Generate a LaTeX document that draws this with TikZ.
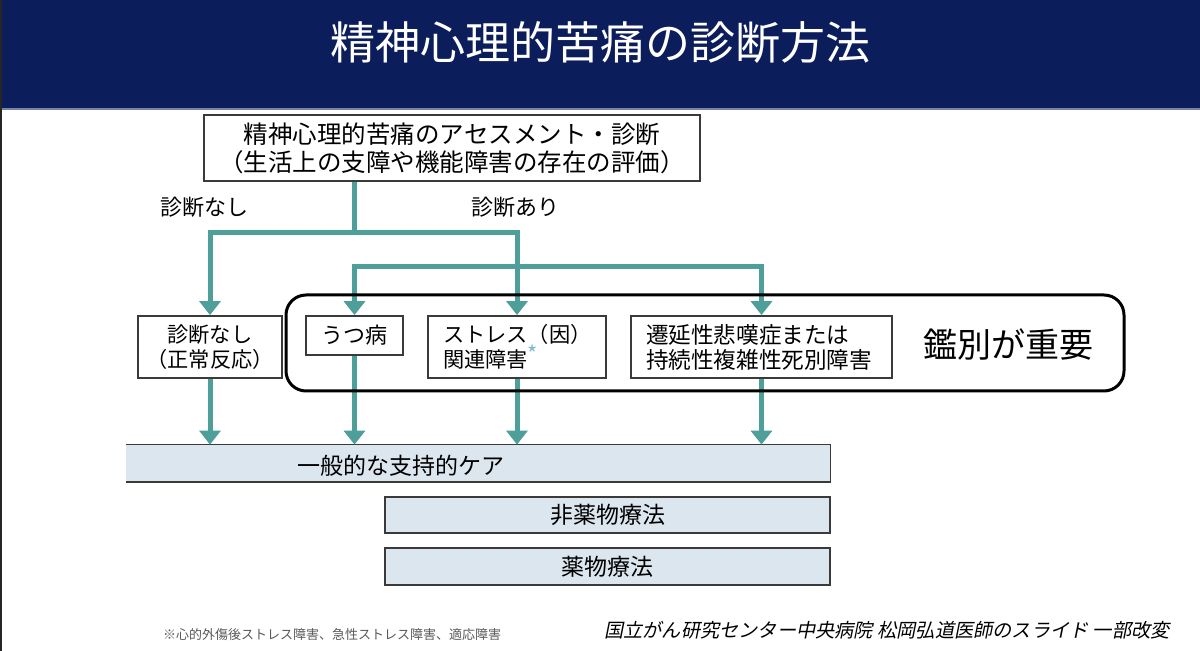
\documentclass[tikz,border=0pt]{standalone}
\usepackage{fontspec}
\setmainfont{Noto Sans CJK JP}
\newfontfamily\slantfont[FakeSlant=0.2]{Noto Sans CJK JP}
\usetikzlibrary{arrows.meta}
\definecolor{navy}{HTML}{0C1D5C}
\definecolor{tealline}{HTML}{4E9E99}
\definecolor{carefill}{HTML}{DCE6EF}
\definecolor{boxline}{HTML}{3A3A3A}
\definecolor{astcol}{HTML}{7FB8CC}
\newcommand{\fsz}[2]{\fontsize{#1}{#2}\selectfont}
\tikzset{
  tline/.style={draw=tealline, line width=2.5pt},
  arr/.style={draw=tealline, line width=2.5pt, -{Triangle[width=10.5pt,length=7pt]}},
  boxnode/.style={draw=boxline, line width=0.9pt, fill=white, inner sep=0pt, align=center},
  bandnode/.style={draw=boxline, line width=0.9pt, fill=carefill, inner sep=0pt, align=center, font=\fsz{11.5pt}{13pt}},
}
\begin{document}
\begin{tikzpicture}[x=0.5pt, y=-0.5pt]
\useasboundingbox (0,0) rectangle (1200,651);
\fill[white] (0,0) rectangle (1200,651);
% title bar
\fill[navy] (0,0) rectangle (1200,109);
\draw[line width=0.6pt, draw=navy!55] (0,109) -- (1200,109);
\fill[black!85] (0,0) rectangle (2,651);
\node[text=white, font=\fsz{22.5pt}{26pt}, inner sep=0pt] (title) at (600,43) {精神心理的苦痛の診断方法};

% main box
\node[boxnode, minimum width=248pt, minimum height=33pt, font=\fsz{12.25pt}{14pt}] (main) at (452,148)
  {精神心理的苦痛のアセスメント・診断\\（生活上の支障や機能障害の存在の評価）};

% branch labels
\node[font=\fsz{11pt}{12pt}, inner sep=0pt] (lblnone) at (204,207) {診断なし};
\node[font=\fsz{11pt}{12pt}, inner sep=0pt] (lblyes) at (515,207) {診断あり};

% row boxes
\node[boxnode, minimum width=72pt, minimum height=31pt, font=\fsz{10.6pt}{12.5pt}] (nashi) at (210,347)
  {診断なし\\（正常反応）};
\node[boxnode, minimum width=48.5pt, minimum height=19.5pt, font=\fsz{11pt}{12.5pt}] (utsu) at (354.5,335.5)
  {うつ病};
\node[boxnode, minimum width=89pt, minimum height=31pt, text width=74pt, align=left, font=\fsz{10.6pt}{12.5pt}] (stress) at (517,347)
  {ストレス（因）\\関連障害{\color{astcol}\fsz{11pt}{12pt}\raisebox{2.5pt}{*}}};
\node[boxnode, minimum width=130.5pt, minimum height=31pt, text width=115.5pt, align=left, font=\fsz{11.3pt}{12.5pt}] (sentei) at (761.5,347)
  {遷延性悲嘆症または\\持続性複雑性死別障害};

% care band
\node[fill=carefill, inner sep=0pt, minimum width=352pt, minimum height=18.5pt] (care) at (478,463.5) {};
\draw[boxline, line width=0.9pt] (care.north west) -- (care.north east) -- (care.south east) -- (care.south west);
\node[font=\fsz{11.5pt}{13pt}, inner sep=0pt] (caretext) at (401,466) {一般的な支持的ケア};

% therapy boxes
\node[bandnode, minimum width=222.5pt, minimum height=18pt] (nonpharm) at (607.5,515) {非薬物療法};
\node[bandnode, minimum width=222.5pt, minimum height=18.5pt] (pharm) at (607.5,566.5) {薬物療法};

% connectors
\coordinate (j1) at (354,233);
\coordinate (j2) at (354,267);
\draw[tline] (main.south -| j1) -- (j1);
\draw[tline, line cap=rect] (nashi.north |- j1) -- (stress.north |- j1);
\draw[arr] (nashi.north |- j1) -- (nashi.north);
\draw[arr] (stress.north |- j1) -- (stress.north);
\draw[tline, line cap=rect] (utsu.north |- j2) -- (sentei.north |- j2);
\draw[arr] (utsu.north |- j2) -- (utsu.north);
\draw[arr] (sentei.north |- j2) -- (sentei.north);

\draw[arr] (nashi.south) -- (nashi.south |- care.north);
\draw[arr] (utsu.south) -- (utsu.south |- care.north);
\draw[arr] (stress.south) -- (stress.south |- care.north);
\draw[arr] (sentei.south) -- (sentei.south |- care.north);

% differential frame
\node[draw=black, line width=1.5pt, rounded corners=10pt, minimum width=419pt, minimum height=48pt, inner sep=0pt] (diff) at (705,343) {};
\node[font=\fsz{17pt}{19pt}, inner sep=0pt] (difftext) at (1008,345) {鑑別が重要};

% credit and footnote
\node[font=\slantfont\fsz{9.6pt}{11pt}, inner sep=0pt] (credit) at (887,630) {国立がん研究センター中央病院 松岡弘道医師のスライド 一部改変};
\node[font=\fsz{6.5pt}{7.5pt}, text=black!65, inner sep=0pt] (foot) at (332,635) {※心的外傷後ストレス障害、急性ストレス障害、適応障害};
\end{tikzpicture}
\end{document}
